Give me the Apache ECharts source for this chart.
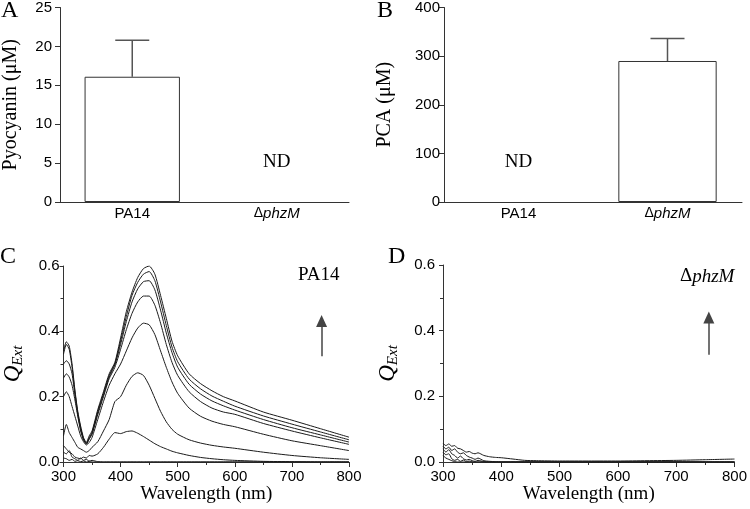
<!DOCTYPE html>
<html>
<head>
<meta charset="utf-8">
<script src="https://cdn.jsdelivr.net/npm/echarts@6/dist/echarts.min.js"></script>
<style>
  html, body { margin: 0; padding: 0; background: #fff; }
  #chart { width: 750px; height: 509px; }
</style>
</head>
<body>
<div id="chart"></div>
<script>
// panel A / B : bar data
const strains = ['PA14', 'ΔphzM']
const pyocyaninMean = [16.1, null]
const pyocyaninErr = [4.7, null]
const pcaMean = [null, 290]
const pcaErr = [null, 46]
const ndPyocyanin = [[1, 5.1]]
const ndPca = [[0, 82]]

// panel C / D : spectra
const wlC = [300, 305, 310, 315, 320, 325, 330, 335, 340, 345, 350, 360, 370, 380, 390, 400, 410, 420, 430, 440, 450, 460, 470, 480, 490, 500, 520, 540, 560, 580, 600, 650, 700, 750, 800]
const specC = [
  [0.012, 0.010, 0.005, 0.008, 0.002, 0.004, 0.001, 0.003, 0.000, 0.002, 0.000, 0, 0, 0, 0, 0, 0, 0, 0, 0, 0, 0, 0, 0, 0, 0, 0, 0, 0, 0, 0, 0, 0, 0, 0],
  [0.030, 0.025, 0.035, 0.015, 0.010, 0.005, 0.012, 0.005, 0.008, 0.003, 0.005, 0.001, 0, 0, 0, 0, 0, 0, 0, 0, 0, 0, 0, 0, 0, 0, 0, 0, 0, 0, 0, 0, 0, 0, 0],
  [0.050, 0.040, 0.030, 0.025, 0.015, 0.012, 0.010, 0.015, 0.012, 0.020, 0.018, 0.025, 0.045, 0.070, 0.090, 0.087, 0.093, 0.095, 0.088, 0.078, 0.067, 0.056, 0.047, 0.040, 0.033, 0.028, 0.020, 0.014, 0.010, 0.007, 0.005, 0.002, 0.001, 0.000, 0.000],
  [0.080, 0.115, 0.090, 0.075, 0.060, 0.045, 0.040, 0.035, 0.030, 0.035, 0.045, 0.062, 0.095, 0.130, 0.185, 0.200, 0.235, 0.262, 0.273, 0.265, 0.235, 0.195, 0.155, 0.123, 0.100, 0.085, 0.068, 0.058, 0.051, 0.046, 0.042, 0.030, 0.020, 0.013, 0.008],
  [0.200, 0.215, 0.200, 0.170, 0.140, 0.110, 0.080, 0.062, 0.052, 0.060, 0.075, 0.130, 0.185, 0.235, 0.270, 0.300, 0.340, 0.380, 0.410, 0.425, 0.420, 0.390, 0.340, 0.290, 0.245, 0.210, 0.165, 0.140, 0.125, 0.115, 0.108, 0.085, 0.065, 0.050, 0.035],
  [0.257, 0.270, 0.260, 0.235, 0.190, 0.140, 0.095, 0.068, 0.055, 0.070, 0.085, 0.145, 0.200, 0.255, 0.290, 0.345, 0.405, 0.455, 0.490, 0.508, 0.508, 0.480, 0.425, 0.360, 0.305, 0.265, 0.215, 0.185, 0.165, 0.153, 0.146, 0.118, 0.095, 0.074, 0.054],
  [0.300, 0.310, 0.300, 0.270, 0.205, 0.145, 0.100, 0.070, 0.055, 0.072, 0.088, 0.150, 0.205, 0.260, 0.298, 0.360, 0.430, 0.490, 0.530, 0.552, 0.555, 0.527, 0.465, 0.395, 0.335, 0.290, 0.238, 0.208, 0.187, 0.172, 0.159, 0.130, 0.105, 0.083, 0.061],
  [0.330, 0.360, 0.345, 0.290, 0.215, 0.150, 0.105, 0.070, 0.058, 0.075, 0.090, 0.155, 0.210, 0.265, 0.300, 0.370, 0.445, 0.510, 0.550, 0.575, 0.583, 0.555, 0.490, 0.418, 0.352, 0.307, 0.254, 0.224, 0.202, 0.186, 0.171, 0.141, 0.116, 0.092, 0.068],
  [0.340, 0.368, 0.355, 0.300, 0.220, 0.155, 0.110, 0.075, 0.060, 0.080, 0.095, 0.160, 0.215, 0.270, 0.305, 0.380, 0.460, 0.520, 0.565, 0.592, 0.600, 0.575, 0.510, 0.440, 0.370, 0.325, 0.270, 0.240, 0.218, 0.200, 0.187, 0.153, 0.128, 0.102, 0.076]
]
const wlD = [300, 305, 310, 315, 320, 325, 330, 335, 340, 345, 350, 355, 360, 370, 380, 390, 400, 420, 440, 460, 500, 550, 600, 650, 700, 750, 800]
const specD = [
  [0.020, 0.012, 0.008, 0.004, 0.001, 0, 0, 0, 0, 0, 0, 0, 0, 0, 0, 0, 0, 0, 0, 0, 0, 0, 0, 0, 0, 0, 0],
  [0.030, 0.022, 0.025, 0.010, 0.005, 0.008, 0.002, 0.006, 0.001, 0.003, 0, 0, 0, 0, 0, 0, 0, 0, 0, 0, 0, 0, 0, 0, 0, 0, 0],
  [0.040, 0.030, 0.038, 0.025, 0.020, 0.012, 0.018, 0.010, 0.006, 0.008, 0.004, 0.002, 0.005, 0.001, 0, 0, 0, 0, 0, 0, 0, 0, 0, 0, 0, 0, 0],
  [0.048, 0.040, 0.045, 0.035, 0.040, 0.030, 0.025, 0.028, 0.020, 0.015, 0.012, 0.008, 0.012, 0.004, 0.002, 0.001, 0, 0, 0, 0, 0, 0, 0, 0, 0, 0, 0],
  [0.057, 0.050, 0.055, 0.048, 0.050, 0.042, 0.040, 0.035, 0.030, 0.032, 0.027, 0.025, 0.028, 0.020, 0.016, 0.014, 0.013, 0.009, 0.005, 0.004, 0.003, 0.003, 0.003, 0.004, 0.005, 0.007, 0.009]
]
// arrows: [x, yFrom, yTo]
const arrowC = [752, 0.324, 0.432]
const arrowD = [756, 0.327, 0.44]

const sans = 'Liberation Sans, Arial, sans-serif'
const serif = 'Liberation Serif, Times New Roman, serif'
const axisColor = '#333'

const chart = echarts.init(document.getElementById('chart'))

const catAxis = (gridIndex) => ({
  type: 'category',
  gridIndex,
  data: strains,
  axisLine: { lineStyle: { color: axisColor, width: 1 } },
  axisTick: { alignWithLabel: true, length: 4, lineStyle: { color: axisColor } },
  axisLabel: {
    margin: 4,
    color: '#000',
    fontFamily: sans,
    fontSize: 15,
    formatter: (v) => v === 'PA14' ? v : '{d|Δ}{i|phzM}',
    rich: {
      d: { fontFamily: sans, fontSize: 14, color: '#000' },
      i: { fontFamily: sans, fontSize: 15, fontStyle: 'italic', color: '#000' }
    }
  }
})

const barYAxis = (gridIndex, max, interval, name, nameGap, margin) => ({
  type: 'value',
  gridIndex,
  min: 0,
  max,
  interval,
  name,
  nameLocation: 'middle',
  nameGap,
  nameTextStyle: { fontFamily: serif, fontSize: 20, color: '#000' },
  axisLine: { show: true, lineStyle: { color: axisColor } },
  axisTick: { show: true, length: 5, lineStyle: { color: axisColor } },
  axisLabel: { margin, color: '#000', fontFamily: sans, fontSize: 15 },
  splitLine: { show: false }
})

const wlAxis = (gridIndex) => ({
  type: 'value',
  gridIndex,
  min: 300,
  max: 800,
  interval: 100,
  name: 'Wavelength (nm)',
  nameLocation: 'middle',
  nameGap: 17,
  nameTextStyle: { fontFamily: serif, fontSize: 19, color: '#000', verticalAlign: 'top' },
  axisLine: { lineStyle: { color: axisColor } },
  axisTick: { length: 5, lineStyle: { color: axisColor } },
  minorTick: { show: true, splitNumber: 2, length: 3, lineStyle: { color: axisColor } },
  axisLabel: { margin: 7, color: '#000', fontFamily: sans, fontSize: 15 },
  splitLine: { show: false }
})

const qAxis = (gridIndex, nameGap, margin) => ({
  type: 'value',
  gridIndex,
  min: 0,
  max: 0.6,
  interval: 0.2,
  name: '{q|Q}{s|Ext}',
  nameLocation: 'middle',
  nameGap,
  nameTextStyle: {
    rich: {
      q: { fontFamily: serif, fontSize: 23, fontStyle: 'italic', color: '#000' },
      s: { fontFamily: serif, fontSize: 15, fontStyle: 'italic', color: '#000', padding: [11, 0, 0, 0] }
    }
  },
  axisLine: { show: true, lineStyle: { color: axisColor } },
  axisTick: { show: true, length: 4, lineStyle: { color: axisColor } },
  minorTick: { show: true, splitNumber: 2, length: 3, lineStyle: { color: axisColor } },
  axisLabel: { margin, color: '#000', fontFamily: sans, fontSize: 15, formatter: (v) => v.toFixed(1) },
  splitLine: { show: false }
})

const errorSeries = (idx, means, errs) => ({
  type: 'custom',
  xAxisIndex: idx,
  yAxisIndex: idx,
  silent: true,
  data: means.map((m, i) => [i, m, m == null ? null : m + errs[i]]).filter((d) => d[1] != null),
  renderItem: (params, api) => {
    const base = api.coord([api.value(0), api.value(1)])
    const top = api.coord([api.value(0), api.value(2)])
    const half = 17
    const style = { stroke: '#555', lineWidth: 1.5 }
    return {
      type: 'group',
      children: [
        { type: 'line', shape: { x1: base[0], y1: base[1], x2: top[0], y2: top[1] }, style },
        { type: 'line', shape: { x1: top[0] - half, y1: top[1], x2: top[0] + half, y2: top[1] }, style }
      ]
    }
  },
  z: 1
})

const ndSeries = (idx, points) => ({
  type: 'scatter',
  xAxisIndex: idx,
  yAxisIndex: idx,
  silent: true,
  symbolSize: 0,
  data: points,
  itemStyle: { opacity: 1 },
  label: { show: true, position: 'inside', formatter: 'ND', fontFamily: serif, fontSize: 19, color: '#000', textBorderWidth: 0 }
})

const arrowLine = (a) => ({
  silent: true,
  symbol: ['none', 'triangle'],
  symbolSize: [11, 12],
  label: { show: false },
  lineStyle: { color: '#444', width: 1.5, type: 'solid' },
  data: [[{ coord: [a[0], a[1]] }, { coord: [a[0], a[2]] }]]
})

const specSeries = (idx, wl, curves, arrow) => curves.map((vals, k) => ({
  type: 'line',
  xAxisIndex: idx,
  yAxisIndex: idx,
  data: vals.map((v, i) => [wl[i], v]),
  showSymbol: false,
  smooth: 0.2,
  silent: true,
  lineStyle: { color: '#1a1a1a', width: 1 },
  markLine: k === curves.length - 1 ? arrowLine(arrow) : undefined
}))

const barSeries = (idx, means) => ({
  type: 'bar',
  xAxisIndex: idx,
  yAxisIndex: idx,
  data: means,
  barWidth: '66%',
  silent: true,
  itemStyle: { color: '#fff', borderColor: '#333', borderWidth: 1 }
})

const panelText = (text, left, top) => ({
  type: 'text', left, top,
  style: { text, font: '24px ' + serif, fill: '#000' }
})

chart.setOption({
  animation: false,
  grid: [
    { left: 54, top: 6, width: 295, height: 196 },
    { left: 444, top: 6, width: 298, height: 196 },
    { left: 54, top: 266, width: 295, height: 196 },
    { left: 443, top: 265, width: 295, height: 197 }
  ],
  xAxis: [catAxis(0), catAxis(1), wlAxis(2), wlAxis(3)],
  yAxis: [
    barYAxis(0, 25, 5, 'Pyocyanin (μM)', 39, 8),
    barYAxis(1, 400, 100, 'PCA (μM)', 49, 4),
    qAxis(2, 38, 4),
    qAxis(3, 42, 8)
  ],
  series: [
    barSeries(0, pyocyaninMean),
    errorSeries(0, pyocyaninMean, pyocyaninErr),
    ndSeries(0, ndPyocyanin),
    barSeries(1, pcaMean),
    errorSeries(1, pcaMean, pcaErr),
    ndSeries(1, ndPca),
    ...specSeries(2, wlC, specC, arrowC),
    ...specSeries(3, wlD, specD, arrowD)
  ],
  graphic: [
    panelText('A', 1, -1),
    panelText('B', 377, -1),
    panelText('C', 0, 245),
    panelText('D', 388, 245),
    { type: 'text', left: 298, top: 266, style: { text: 'PA14', font: '19px ' + serif, fill: '#000' } },
    {
      type: 'text', left: 680, top: 267,
      style: {
        text: '{d|Δ}{i|phzM}',
        rich: {
          d: { font: '19px ' + serif, fill: '#000' },
          i: { font: 'italic 19px ' + serif, fill: '#000' }
        }
      }
    }
  ]
})
</script>
</body>
</html>
